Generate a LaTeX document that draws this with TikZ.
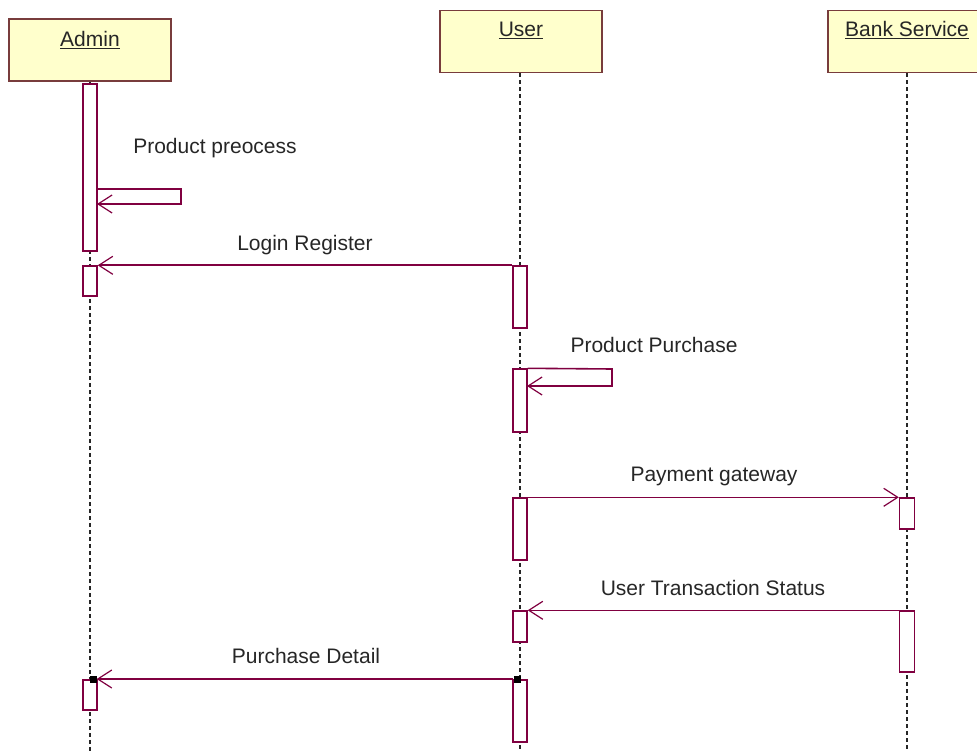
\documentclass[tikz,border=0pt]{standalone}
\usepackage{fontspec}
\setmainfont{Liberation Sans}
\usetikzlibrary{arrows.meta}
\definecolor{boxfill}{RGB}{255,255,204}
\definecolor{boxline}{RGB}{120,60,60}
\definecolor{msg}{RGB}{128,0,64}
\begin{document}
\begin{tikzpicture}[x=1pt,y=-1pt,
  font=\fontsize{21}{25}\selectfont,
  actor/.style={draw=boxline,fill=boxfill,line width=1.6pt,minimum width=162pt,minimum height=62pt,inner sep=0pt},
  act/.style={draw=msg,fill=white,line width=1.4pt,minimum width=14pt,inner sep=0pt},
  life/.style={draw=black!85,line width=1.4pt,dash pattern=on 4pt off 3pt},
  msgline/.style={draw=msg,line width=1.6pt,-{Straight Barb[length=14pt,width=18pt,line width=1.2pt]}},
  lbl/.style={inner sep=0pt,text=black!85},
  dot/.style={fill=black,minimum size=7pt,inner sep=0pt}]
\useasboundingbox (0,0) rectangle (977,751);
\clip (0,0) rectangle (977,751);
% actors
\node[actor] (admin) at (90,50) {};
\node[lbl] at (90,40) {\underline{Admin}};
\node[actor] (user) at (521,41.5) {};
\node[lbl] at (521,30) {\underline{User}};
\node[actor] (bank) at (909,41.5) {};
\node[lbl] at (907,30) {\underline{Bank Service}};
% lifelines
\coordinate (adminEnd) at (90,751);
\coordinate (userEnd) at (520,751);
\coordinate (bankEnd) at (907,751);
\draw[life] (admin.south -| adminEnd) -- (adminEnd);
\draw[life] (user.south -| userEnd) -- (userEnd);
\draw[life] (bank.south -| bankEnd) -- (bankEnd);
% activations
\node[act,minimum height=167pt] (a1) at (90,167.5) {};
\node[act,minimum height=30pt] (a2) at (90,281) {};
\node[act,minimum height=30pt] (a3) at (90,695) {};
\node[act,minimum height=62pt] (u1) at (520,297) {};
\node[act,minimum height=63pt] (u2) at (520,400.5) {};
\node[act,minimum height=62pt] (u3) at (520,529) {};
\node[act,minimum height=31pt] (u4) at (520,626.5) {};
\node[act,minimum height=62pt] (u5) at (520,711) {};
\node[act,minimum height=31pt,minimum width=15pt] (b1) at (907,513.5) {};
\node[act,minimum height=61pt,minimum width=15pt] (b2) at (907,641.5) {};
% self message admin
\coordinate (s1a) at (97,189);
\coordinate (s1b) at (181,189);
\coordinate (s1c) at (181,204);
\coordinate (s1d) at (97,204);
\draw[msgline] (s1a) -- (s1b) -- (s1c) -- (s1d);
\node[lbl] at (215,148) {Product preocess};
% login register
\draw[msgline] (u1.north west) -- (a2.north east);
\node[lbl] at (305,245) {Login Register};
% self message user
\coordinate (s2b) at (612,369);
\coordinate (s2c) at (612,386);
\coordinate (s2d) at (527,386);
\draw[msgline] (u2.north east) -- (s2b) -- (s2c) -- (s2d);
\node[lbl] at (654,345) {Product Purchase};
% payment gateway
\draw[msgline] (u3.north east) -- (b1.north west);
\node[lbl] at (714,476) {Payment gateway};
% user transaction status
\draw[msgline] (b2.north west) -- (u4.north east);
\node[lbl] at (713,588) {User Transaction Status};
% purchase detail
\node[dot] (d1) at (517,679) {};
\node[dot] (d2) at (93,679) {};
\draw[msgline] (d1.west) -- (d2.east);
\node[lbl] at (306,656) {Purchase Detail};
\end{tikzpicture}
\end{document}
